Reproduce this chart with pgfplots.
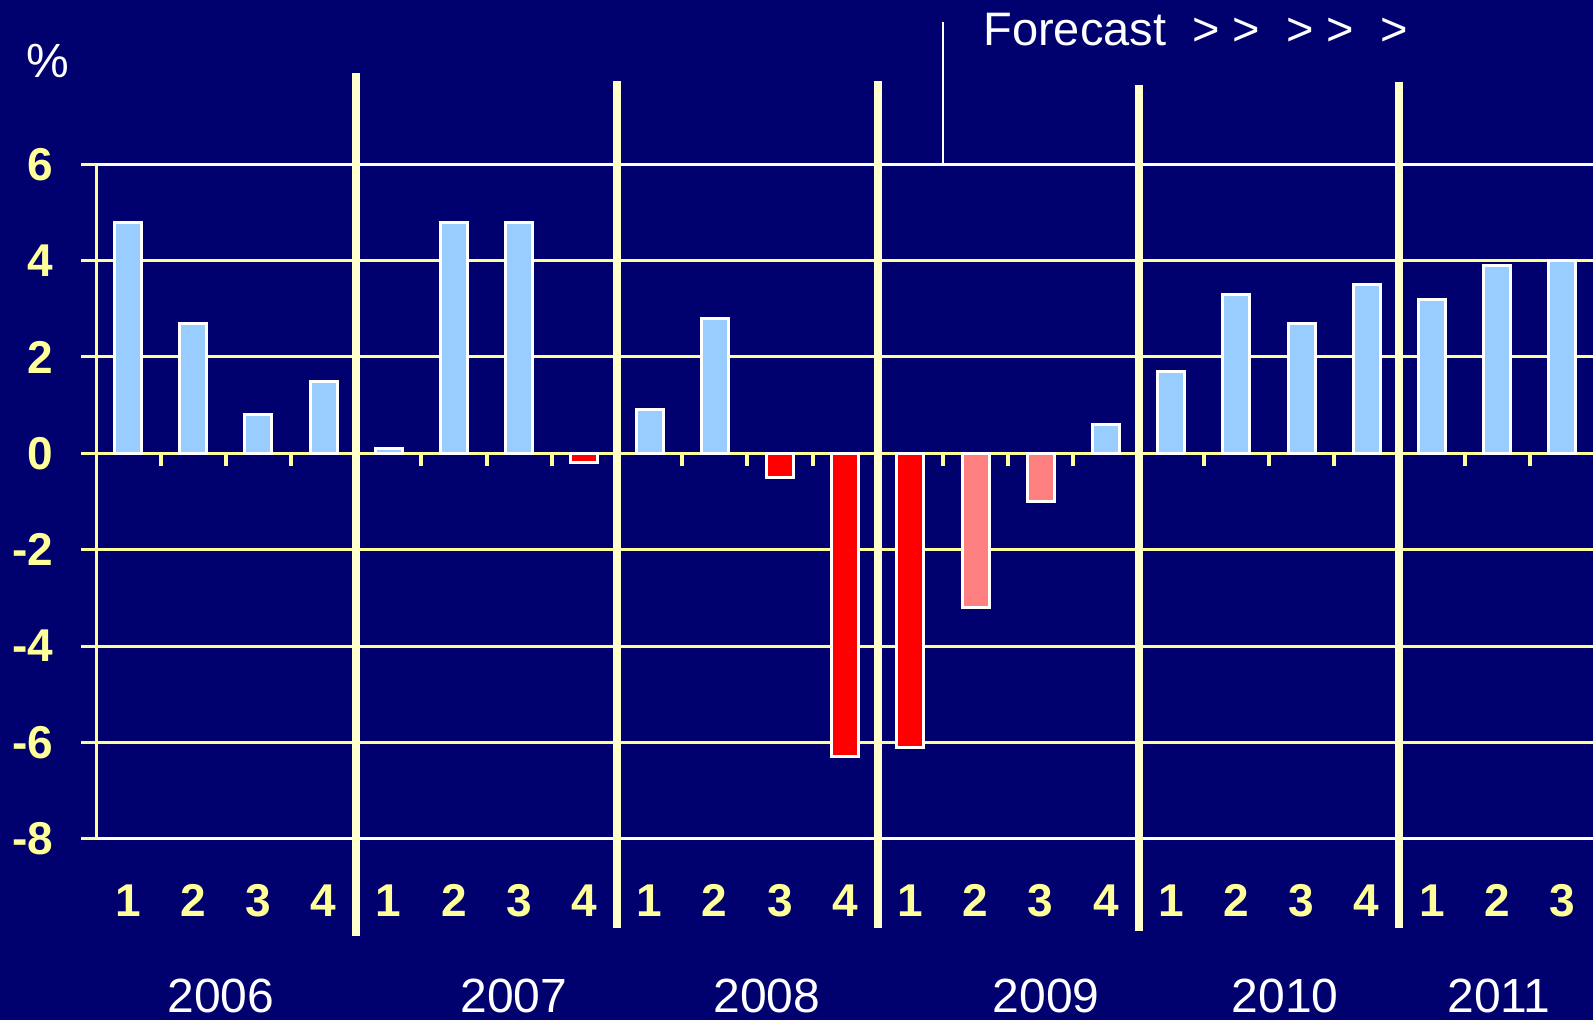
\documentclass[border=0pt]{standalone}
\usepackage{pgfplots}
\pgfplotsset{compat=1.18}
\usepackage{fontspec}
\setmainfont{Liberation Sans}
\definecolor{navy}{RGB}{0,0,110}
\definecolor{gridyel}{RGB}{255,255,153}
\definecolor{sepcream}{RGB}{255,255,204}
\definecolor{barblue}{RGB}{153,204,255}
\definecolor{salmon}{RGB}{255,128,128}

\begin{document}
\begin{tikzpicture}
\fill[navy] (0,0) rectangle (796.5pt,510pt);
\begin{axis}[
    at={(48.25pt,90.65pt)}, anchor=south west,
    scale only axis, width=748.25pt, height=337.2pt,
    xmin=-0.483, xmax=22.47, ymin=-8, ymax=6,
    axis x line*=bottom, axis y line*=left,
    x axis line style={white, line width=1.5pt, -},
    y axis line style={gridyel, line width=1.5pt, -},
    ytick={-8,-6,...,6},
    yticklabels={-8,-6,-4,-2,0,2,4,6},
    xtick={0,...,22},
    xticklabels={1,2,3,4,1,2,3,4,1,2,3,4,1,2,3,4,1,2,3,4,1,2,3},
    tick align=outside,
    major tick length=7.5pt,
    xtick style={draw=none},
    ytick style={gridyel, line width=1.5pt},
    ymajorgrids, grid style={gridyel, line width=1.5pt},
    ticklabel style={font=\fontsize{23}{27}\selectfont\bfseries, text=gridyel, inner sep=0pt},
    yticklabel style={xshift=-14pt},
    xticklabel style={anchor=base, yshift=-31.5pt},
    clip=false,
    ybar, bar width=13.5pt,
]
% quarterly growth, actual and forecast
\addplot[bar shift=0pt, fill=barblue, draw=white, line width=1.5pt] coordinates {
    (0,4.8) (1,2.7) (2,0.8) (3,1.5) (4,0.1) (5,4.8) (6,4.8)
    (8,0.9) (9,2.8) (15,0.6) (16,1.7) (17,3.3) (18,2.7) (19,3.5)
    (20,3.2) (21,3.9) (22,4.0)
};
\addplot[bar shift=0pt, fill=red, draw=white, line width=1.5pt] coordinates {
    (7,-0.2) (10,-0.5) (11,-6.3) (12,-6.1)
};
\addplot[bar shift=0pt, fill=salmon, draw=white, line width=1.5pt] coordinates {
    (13,-3.2) (14,-1.0)
};

\draw[white, line width=1.5pt] (rel axis cs:0,1) -- (rel axis cs:1,1);
\pgfplotsinvokeforeach{0.5,1.5,...,21.5}{
    \draw[gridyel, line width=2pt] (axis cs:#1,0) -- ([yshift=-6.5pt]axis cs:#1,0);
}
% year separators
\draw[sepcream, line width=4pt] (axis cs:3.5,7.89) -- (axis cs:3.5,-10.02);
\draw[sepcream, line width=4pt] (axis cs:7.5,7.73) -- (axis cs:7.5,-9.85);
\draw[sepcream, line width=4pt] (axis cs:11.5,7.73) -- (axis cs:11.5,-9.85);
\draw[sepcream, line width=4pt] (axis cs:15.5,7.65) -- (axis cs:15.5,-9.92);
\draw[sepcream, line width=4pt] (axis cs:19.5,7.71) -- (axis cs:19.5,-9.85);
\draw[white, line width=1pt] (axis cs:12.5,6) -- (axis cs:12.5,8.95);
\end{axis}

\begin{scope}[every node/.style={text=white, inner sep=0pt, font=\fontsize{24}{28}\selectfont}]
\node[anchor=base] at (110.5pt,3.5pt) {2006};
\node[anchor=base] at (257pt,3.5pt) {2007};
\node[anchor=base] at (383.5pt,3.5pt) {2008};
\node[anchor=base] at (523pt,3.5pt) {2009};
\node[anchor=base] at (642.5pt,3.5pt) {2010};
\node[anchor=base] at (749.5pt,3.5pt) {2011};
\node at (24pt,479.5pt) {\%};
\node[anchor=base west, font=\fontsize{23.5}{28}\selectfont] at (491.5pt,487pt) {Forecast\ \ >\ >\ \ >\ >\ \ >};
\end{scope}
\pgfresetboundingbox
\path (0,0) rectangle (796.5pt,510pt);
\end{tikzpicture}
\end{document}
